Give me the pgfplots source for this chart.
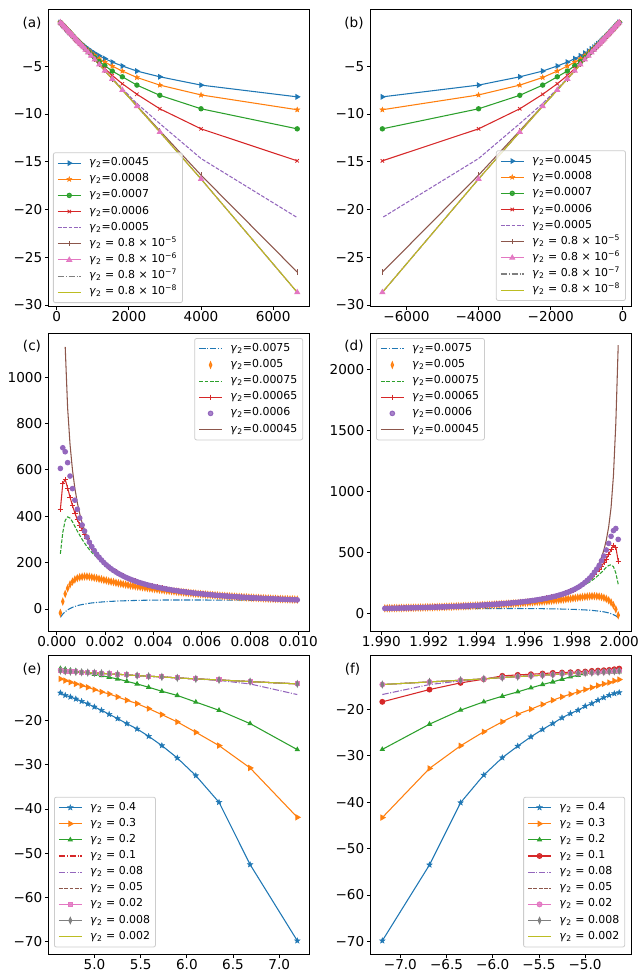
\documentclass[border=0pt]{standalone}
\usepackage{fontspec}
\setmainfont{DejaVu Sans}
\usepackage{pgfplots}
\usepackage{pgfplotstable}
\pgfplotsset{compat=1.18}

\definecolor{C0}{HTML}{1F77B4}
\definecolor{C1}{HTML}{FF7F0E}
\definecolor{C2}{HTML}{2CA02C}
\definecolor{C3}{HTML}{D62728}
\definecolor{C4}{HTML}{9467BD}
\definecolor{C5}{HTML}{8C564B}
\definecolor{C6}{HTML}{E377C2}
\definecolor{C7}{HTML}{7F7F7F}
\definecolor{C8}{HTML}{BCBD22}

\newcommand{\g}{\textit{γ}\textsubscript{2}}

\pgfdeclareplotmark{fstar}{%
 \pgfpathmoveto{\pgfpointpolar{90}{\pgfplotmarksize}}%
 \pgfpathlineto{\pgfpointpolar{126}{0.42\pgfplotmarksize}}%
 \pgfpathlineto{\pgfpointpolar{162}{\pgfplotmarksize}}%
 \pgfpathlineto{\pgfpointpolar{198}{0.42\pgfplotmarksize}}%
 \pgfpathlineto{\pgfpointpolar{234}{\pgfplotmarksize}}%
 \pgfpathlineto{\pgfpointpolar{270}{0.42\pgfplotmarksize}}%
 \pgfpathlineto{\pgfpointpolar{306}{\pgfplotmarksize}}%
 \pgfpathlineto{\pgfpointpolar{342}{0.42\pgfplotmarksize}}%
 \pgfpathlineto{\pgfpointpolar{18}{\pgfplotmarksize}}%
 \pgfpathlineto{\pgfpointpolar{54}{0.42\pgfplotmarksize}}%
 \pgfpathclose
 \pgfusepathqfillstroke}

\pgfplotsset{
  mybase/.style={
    anchor=south west, scale only axis, width=195.4pt,
    axis line style={line width=0.6pt},
    tick align=outside, tick pos=left,
    major tick length=2.7pt,
    every tick/.style={line width=0.6pt, black},
    tick label style={font=\fontsize{10.2}{12}\selectfont},
    xticklabel style={inner sep=0.9pt},
    yticklabel style={inner sep=1.8pt},
    scaled ticks=false,
    legend cell align=left,
    legend style={font=\fontsize{8.2}{9.5}\selectfont, draw=black!20, line width=0.6pt,
      rounded corners=1.5pt, fill=white, fill opacity=0.8, text opacity=1, draw opacity=1,
      inner xsep=3pt, inner ysep=2.6pt, row sep=1.7pt,
      nodes={inner sep=1pt, text height=6.1pt, text depth=2.3pt},
      /tikz/every odd column/.append style={column sep=5pt}},
    every axis plot/.append style={line width=0.8pt},
  },
  dsh/.style={dash pattern=on 2.8pt off 1.2pt},
  dshdot/.style={dash pattern=on 4.8pt off 1.2pt on 0.8pt off 1.2pt},
}

\pgfplotstableread{
x b o g r p br pk
100.5 -0.41 -0.41 -0.41 -0.41 -0.41 -0.41 -0.41
143.9 -0.59 -0.58 -0.58 -0.58 -0.58 -0.58 -0.58
183.5 -0.75 -0.74 -0.74 -0.74 -0.74 -0.74 -0.74
219.8 -0.90 -0.89 -0.89 -0.89 -0.89 -0.89 -0.89
253.2 -1.04 -1.03 -1.03 -1.03 -1.03 -1.03 -1.03
289.9 -1.19 -1.18 -1.18 -1.18 -1.18 -1.18 -1.18
327.9 -1.34 -1.33 -1.33 -1.33 -1.33 -1.33 -1.33
350.9 -1.44 -1.43 -1.43 -1.43 -1.43 -1.43 -1.43
392.2 -1.60 -1.59 -1.59 -1.59 -1.59 -1.59 -1.59
425.5 -1.73 -1.73 -1.73 -1.73 -1.73 -1.73 -1.73
465.1 -1.88 -1.89 -1.89 -1.89 -1.89 -1.89 -1.89
512.8 -2.06 -2.08 -2.09 -2.09 -2.09 -2.09 -2.09
540.5 -2.16 -2.19 -2.20 -2.20 -2.20 -2.20 -2.20
571.4 -2.27 -2.31 -2.32 -2.33 -2.33 -2.33 -2.33
606.1 -2.39 -2.44 -2.46 -2.47 -2.47 -2.47 -2.47
645.2 -2.52 -2.58 -2.61 -2.63 -2.63 -2.63 -2.63
689.7 -2.66 -2.74 -2.78 -2.81 -2.81 -2.81 -2.81
740.7 -2.82 -2.92 -2.98 -3.01 -3.02 -3.02 -3.02
800.0 -2.99 -3.12 -3.20 -3.25 -3.26 -3.26 -3.26
869.6 -3.18 -3.35 -3.47 -3.53 -3.55 -3.55 -3.55
952.4 -3.40 -3.60 -3.77 -3.86 -3.89 -3.89 -3.89
1052.6 -3.63 -3.88 -4.10 -4.25 -4.30 -4.30 -4.30
1176.5 -3.90 -4.20 -4.50 -4.70 -4.82 -4.82 -4.82
1333.3 -4.20 -4.56 -4.94 -5.24 -5.45 -5.47 -5.47
1538.5 -4.56 -4.98 -5.50 -5.96 -6.27 -6.32 -6.32
1818.2 -4.97 -5.50 -6.10 -6.83 -7.35 -7.46 -7.49
2222.2 -5.50 -6.17 -6.97 -7.93 -8.90 -9.12 -9.18
2857.1 -6.10 -6.97 -8.04 -9.45 -11.00 -11.75 -11.88
4000.0 -6.97 -8.00 -9.45 -11.55 -14.66 -16.40 -16.80
6666.7 -8.20 -9.55 -11.55 -14.90 -20.84 -26.55 -28.67
}\tabA

\pgfplotstableread{
t bl or gr rd pu brc brd
0.00015 -36 -17 238 429 606 nan 2200
0.00025 -22 32 330 541 695 nan 1560
0.00035 -12 65 382 558 678 1130 1130
0.00045 -4 89 397 522 631 867 867
0.00055 2 106 392 482 573 709 709
0.00065 7 118 376 446 519 600 600
0.00075 11 127 356 414 469 520 520
0.00085 14 133 336 386 430 459 459
0.00095 17 137 318 362 392 411 411
0.00105 19 139 300 341 362 371 371
0.00115 21 140 284 322 336 339 339
0.00125 23 140 269 303 310 312 312
0.00135 24.5 139 256 285 288 289 289
0.00145 26 137 244 267 269 269 269
0.00155 27 135 233 252 252 252 252
0.00165 28 133 223 236 236 236 236
0.00175 29 130 214 223 223 223 223
0.00185 30 128 206 211 211 211 211
0.00195 30.8 125 198 200 200 200 200
0.00205 31.5 123 190.2 190.2 190.2 190.2 190.2
0.00215 32.2 120 181.4 181.4 181.4 181.4 181.4
0.00225 32.8 118 173.3 173.3 173.3 173.3 173.3
0.00235 33.3 116 166.0 166.0 166.0 166.0 166.0
0.00245 33.8 113 159.2 159.2 159.2 159.2 159.2
0.00255 34.3 111 152.9 152.9 152.9 152.9 152.9
0.00265 34.7 109 147.2 147.2 147.2 147.2 147.2
0.00275 35.1 107 141.8 141.8 141.8 141.8 141.8
0.00285 35.5 105 136.8 136.8 136.8 136.8 136.8
0.00295 35.8 103 132.2 132.2 132.2 132.2 132.2
0.00305 36.1 101 127.9 127.9 127.9 127.9 127.9
0.00315 36.4 99.5 123.8 123.8 123.8 123.8 123.8
0.00325 36.7 98 120.0 120.0 120.0 120.0 120.0
0.00335 37.0 96.5 116.4 116.4 116.4 116.4 116.4
0.00345 37.2 95 113.0 113.0 113.0 113.0 113.0
0.00355 37.4 93.5 109.9 109.9 109.9 109.9 109.9
0.00365 37.6 92 106.8 106.8 106.8 106.8 106.8
0.00375 37.8 90.5 104.0 104.0 104.0 104.0 104.0
0.00385 38.0 89 101.3 101.3 101.3 101.3 101.3
0.00395 38.1 87.5 98.7 98.7 98.7 98.7 98.7
0.00405 38.2 86 96.3 96.3 96.3 96.3 96.3
0.00415 38.3 84.7 94.0 94.0 94.0 94.0 94.0
0.00425 38.4 83.4 91.8 91.8 91.8 91.8 91.8
0.00435 38.5 82.1 89.7 89.7 89.7 89.7 89.7
0.00445 38.6 80.8 87.6 87.6 87.6 87.6 87.6
0.00455 38.6 79.5 85.7 85.7 85.7 85.7 85.7
0.00465 38.7 78.3 83.9 83.9 83.9 83.9 83.9
0.00475 38.7 77.1 82.1 82.1 82.1 82.1 82.1
0.00485 38.7 75.9 80.4 80.4 80.4 80.4 80.4
0.00495 38.8 74.7 78.8 78.8 78.8 78.8 78.8
0.00505 38.8 73.5 77.2 77.2 77.2 77.2 77.2
0.00515 38.8 72.4 75.7 75.7 75.7 75.7 75.7
0.00525 38.8 71.3 74.3 74.3 74.3 74.3 74.3
0.00535 38.8 70.2 72.9 72.9 72.9 72.9 72.9
0.00545 38.8 69.1 71.6 71.6 71.6 71.6 71.6
0.00555 38.8 68.1 70.3 70.3 70.3 70.3 70.3
0.00565 38.7 67.1 69.0 69.0 69.0 69.0 69.0
0.00575 38.7 66.1 67.8 67.8 67.8 67.8 67.8
0.00585 38.7 65.1 66.7 66.7 66.7 66.7 66.7
0.00595 38.7 64.1 65.5 65.5 65.5 65.5 65.5
0.00605 38.6 63.2 64.5 64.5 64.5 64.5 64.5
0.00615 38.6 62.3 63.4 63.4 63.4 63.4 63.4
0.00625 38.5 61.4 62.4 62.4 62.4 62.4 62.4
0.00635 38.5 60.5 61.4 61.4 61.4 61.4 61.4
0.00645 38.4 59.7 60.5 60.5 60.5 60.5 60.5
0.00655 38.4 58.9 59.5 59.5 59.5 59.5 59.5
0.00665 38.3 58.1 58.6 58.6 58.6 58.6 58.6
0.00675 38.3 57.3 57.8 57.8 57.8 57.8 57.8
0.00685 38.2 56.5 56.9 56.9 56.9 56.9 56.9
0.00695 38.2 55.8 56.1 56.1 56.1 56.1 56.1
0.00705 38.1 55.1 55.3 55.3 55.3 55.3 55.3
0.00715 38.1 54.4 54.5 54.5 54.5 54.5 54.5
0.00725 38.0 53.7 53.8 53.8 53.8 53.8 53.8
0.00735 38.0 53.0 53.1 53.1 53.1 53.1 53.1
0.00745 37.9 52.3 52.3 52.3 52.3 52.3 52.3
0.00755 37.9 51.7 51.7 51.7 51.7 51.7 51.7
0.00765 37.8 51.1 51.0 51.0 51.0 51.0 51.0
0.00775 37.8 50.5 50.3 50.3 50.3 50.3 50.3
0.00785 37.7 49.9 49.7 49.7 49.7 49.7 49.7
0.00795 37.7 49.3 49.1 49.1 49.1 49.1 49.1
0.00805 37.6 48.7 48.4 48.4 48.4 48.4 48.4
0.00815 37.6 48.1 47.9 47.9 47.9 47.9 47.9
0.00825 37.5 47.6 47.3 47.3 47.3 47.3 47.3
0.00835 37.5 47.1 46.7 46.7 46.7 46.7 46.7
0.00845 37.4 46.6 46.2 46.2 46.2 46.2 46.2
0.00855 37.4 46.1 45.6 45.6 45.6 45.6 45.6
0.00865 37.3 45.6 45.1 45.1 45.1 45.1 45.1
0.00875 37.3 45.1 44.6 44.6 44.6 44.6 44.6
0.00885 37.2 44.6 44.1 44.1 44.1 44.1 44.1
0.00895 37.2 44.2 43.6 43.6 43.6 43.6 43.6
0.00905 37.1 43.8 43.1 43.1 43.1 43.1 43.1
0.00915 37.1 43.4 42.6 42.6 42.6 42.6 42.6
0.00925 37.0 43.0 42.2 42.2 42.2 42.2 42.2
0.00935 37.0 42.6 41.7 41.7 41.7 41.7 41.7
0.00945 36.9 42.2 41.3 41.3 41.3 41.3 41.3
0.00955 36.9 41.8 40.8 40.8 40.8 40.8 40.8
0.00965 36.8 41.4 40.4 40.4 40.4 40.4 40.4
0.00975 36.8 41.0 40.0 40.0 40.0 40.0 40.0
0.00985 36.7 40.6 39.6 39.6 39.6 39.6 39.6
0.00995 36.7 40.2 39.2 39.2 39.2 39.2 39.2
}\tabC

\pgfplotstableread{
x s4 s3 s2 grp s08
4.6305 -13.73 -10.56 -8.22 -8.67 -8.67
4.6832 -14.26 -10.94 -8.37 -8.82 -8.82
4.7387 -14.64 -11.31 -8.60 -8.90 -8.90
4.7976 -15.09 -11.69 -8.75 -8.97 -8.97
4.8601 -15.62 -12.07 -8.97 -9.05 -9.05
4.9268 -16.22 -12.45 -9.20 -9.12 -9.12
4.9983 -16.90 -12.98 -9.50 -9.20 -9.20
5.0752 -17.66 -13.50 -9.80 -9.27 -9.27
5.1586 -18.56 -13.96 -10.18 -9.43 -9.43
5.2496 -19.55 -14.64 -10.56 -9.50 -9.50
5.3497 -20.68 -15.39 -11.10 -9.65 -9.65
5.4609 -21.89 -16.15 -11.70 -9.80 -9.80
5.5860 -23.55 -17.28 -12.45 -9.95 -9.95
5.7291 -25.66 -18.64 -13.35 -10.10 -10.10
5.8962 -28.46 -20.30 -14.30 -10.33 -10.33
6.0968 -32.46 -22.64 -15.80 -10.56 -10.56
6.3481 -38.50 -25.66 -17.66 -10.79 -10.90
6.6846 -52.60 -30.72 -20.68 -11.16 -11.70
7.1955 -69.85 -41.90 -26.57 -11.69 -14.10
}\tabE

\pgfplotstableread{
x s4 s3 s2 s1 s08 grp
-7.1955 -69.86 -43.30 -28.60 -18.35 -16.77 -14.62
-6.6846 -53.50 -32.70 -23.16 -15.70 -14.62 -14.05
-6.3481 -40.09 -27.82 -20.14 -14.26 -13.83 -13.69
-6.0968 -34.13 -24.80 -18.35 -13.47 -13.40 -13.40
-5.8962 -30.39 -22.65 -17.13 -12.75 -13.11 -13.11
-5.7291 -27.89 -21.00 -16.20 -12.54 -12.90 -12.90
-5.5860 -25.88 -19.93 -15.34 -12.40 -12.75 -12.75
-5.4609 -24.30 -18.90 -14.62 -12.25 -12.60 -12.60
-5.3497 -23.01 -18.00 -14.05 -12.11 -12.47 -12.47
-5.2496 -21.79 -17.27 -13.47 -12.04 -12.32 -12.32
-5.1586 -20.86 -16.70 -12.97 -11.97 -12.25 -12.25
-5.0752 -20.14 -16.20 -12.61 -11.90 -12.18 -12.18
-4.9983 -19.28 -15.70 -12.30 -11.82 -12.11 -12.11
-4.9268 -18.71 -15.27 -12.10 -11.68 -12.04 -12.04
-4.8601 -17.99 -14.84 -12.02 -11.61 -11.97 -11.97
-4.7976 -17.42 -14.48 -11.97 -11.54 -11.90 -11.90
-4.7387 -16.92 -14.19 -11.93 -11.47 -11.82 -11.82
-4.6832 -16.56 -13.83 -11.90 -11.32 -11.75 -11.75
-4.6305 -16.34 -13.54 -11.88 -11.18 -11.68 -11.68
}\tabF

\begin{document}
\begin{tikzpicture}
\useasboundingbox (0,0) rectangle (480.75pt,728.25pt);

% ---------------- (a)
\begin{axis}[mybase, at={(36.4pt,498.75pt)}, height=222.75pt,
  xmin=-228, xmax=6995, ymin=-30.1, ymax=1.0,
  xtick={0,2000,4000,6000}, xticklabels={0,2000,4000,6000},
  ytick={-30,-25,-20,-15,-10,-5}, yticklabels={−30,−25,−20,−15,−10,−5},
  legend style={at={(0.017,0.01)}, anchor=south west}]
\addplot[C0, mark=triangle*, mark size=1.8pt, mark options={rotate=-90}] table[x=x,y=b]{\tabA};
\addlegendentry{\g=0.0045}
\addplot[C1, mark=fstar, mark size=2pt, mark options={line width=0.3pt}] table[x=x,y=o]{\tabA};
\addlegendentry{\g=0.0008}
\addplot[C2, mark=*, mark size=1.6pt] table[x=x,y=g]{\tabA};
\addlegendentry{\g=0.0007}
\addplot[C3, mark=x, mark size=1.8pt, mark options={line width=0.6pt}] table[x=x,y=r]{\tabA};
\addlegendentry{\g=0.0006}
\addplot[C4, dsh, no marks] table[x=x,y=p]{\tabA};
\addlegendentry{\g=0.0005}
\addplot[C5, mark=|, mark size=2pt, mark options={line width=0.6pt}] table[x=x,y=br]{\tabA};
\addlegendentry{\g{} = 0.8 × 10\textsuperscript{−5}}
\addplot[C6, mark=triangle*, mark size=2pt] table[x=x,y=pk]{\tabA};
\addlegendentry{\g{} = 0.8 × 10\textsuperscript{−6}}
\addplot[C7, dshdot, no marks] table[x=x,y=pk]{\tabA};
\addlegendentry{\g{} = 0.8 × 10\textsuperscript{−7}}
\addplot[C8, no marks] table[x=x,y=pk]{\tabA};
\addlegendentry{\g{} = 0.8 × 10\textsuperscript{−8}}
\end{axis}

% ---------------- (b)
\begin{axis}[mybase, at={(277.9pt,498.75pt)}, height=222.75pt,
  xmin=-6995, xmax=228, ymin=-30.1, ymax=1.0,
  xtick={-6000,-4000,-2000,0}, xticklabels={−6000,−4000,−2000,0},
  ytick={-30,-25,-20,-15,-10,-5}, yticklabels={−30,−25,−20,−15,−10,−5},
  legend style={at={(0.98,0.017)}, anchor=south east}]
\addplot[C0, mark=triangle*, mark size=1.8pt, mark options={rotate=-90}] table[x expr=-\thisrow{x},y=b]{\tabA};
\addlegendentry{\g=0.0045}
\addplot[C1, mark=fstar, mark size=2pt, mark options={line width=0.3pt}] table[x expr=-\thisrow{x},y=o]{\tabA};
\addlegendentry{\g=0.0008}
\addplot[C2, mark=*, mark size=1.6pt] table[x expr=-\thisrow{x},y=g]{\tabA};
\addlegendentry{\g=0.0007}
\addplot[C3, mark=x, mark size=1.8pt, mark options={line width=0.6pt}] table[x expr=-\thisrow{x},y=r]{\tabA};
\addlegendentry{\g=0.0006}
\addplot[C4, dsh, no marks] table[x expr=-\thisrow{x},y=p]{\tabA};
\addlegendentry{\g=0.0005}
\addplot[C5, mark=|, mark size=2pt, mark options={line width=0.6pt}] table[x expr=-\thisrow{x},y=br]{\tabA};
\addlegendentry{\g{} = 0.8 × 10\textsuperscript{−5}}
\addplot[C6, mark=triangle*, mark size=2pt] table[x expr=-\thisrow{x},y=pk]{\tabA};
\addlegendentry{\g{} = 0.8 × 10\textsuperscript{−6}}
\addplot[C7, dshdot, no marks] table[x expr=-\thisrow{x},y=pk]{\tabA};
\addlegendentry{\g{} = 0.8 × 10\textsuperscript{−7}}
\addplot[C8, no marks] table[x expr=-\thisrow{x},y=pk]{\tabA};
\addlegendentry{\g{} = 0.8 × 10\textsuperscript{−8}}
\end{axis}

% ---------------- (c)
\begin{axis}[mybase, at={(36.4pt,255pt)}, height=223.5pt,
  xmin=-0.00034, xmax=0.01044, ymin=-95, ymax=1190,
  xtick={0,0.002,0.004,0.006,0.008,0.01}, xticklabels={0.000,0.002,0.004,0.006,0.008,0.010},
  ytick={0,200,400,600,800,1000}, yticklabels={0,200,400,600,800,1000},
  legend style={at={(0.977,0.983)}, anchor=north east}]
\addplot[C0, dshdot, no marks] table[x=t,y=bl]{\tabC};
\addlegendentry{\g=0.0075}
\addplot[C1, only marks, mark=diamond*, mark size=2.2pt, mark options={xscale=0.55}] table[x=t,y=or]{\tabC};
\addlegendentry{\g=0.005}
\addplot[C2, dsh, no marks] table[x=t,y=gr]{\tabC};
\addlegendentry{\g=0.00075}
\addplot[C3, mark=+, mark size=2pt, mark options={line width=0.5pt}] table[x=t,y=rd]{\tabC};
\addlegendentry{\g=0.00065}
\addplot[C4, only marks, mark=*, mark size=1.7pt] table[x=t,y=pu]{\tabC};
\addlegendentry{\g=0.0006}
\addplot[C5, no marks] table[x=t,y=brc]{\tabC};
\addlegendentry{\g=0.00045}
\end{axis}

% ---------------- (d)
\begin{axis}[mybase, at={(277.9pt,255pt)}, height=223.5pt,
  xmin=-0.00045, xmax=0.01049, ymin=-146, ymax=2300,
  xtick={0,0.002,0.004,0.006,0.008,0.01}, xticklabels={1.990,1.992,1.994,1.996,1.998,2.000},
  ytick={0,500,1000,1500,2000}, yticklabels={0,500,1000,1500,2000},
  legend style={at={(0.021,0.983)}, anchor=north west}]
\addplot[C0, dshdot, no marks] table[x expr=0.0101-\thisrow{t},y=bl]{\tabC};
\addlegendentry{\g=0.0075}
\addplot[C1, only marks, mark=diamond*, mark size=2.2pt, mark options={xscale=0.55}] table[x expr=0.0101-\thisrow{t},y=or]{\tabC};
\addlegendentry{\g=0.005}
\addplot[C2, dsh, no marks] table[x expr=0.0101-\thisrow{t},y=gr]{\tabC};
\addlegendentry{\g=0.00075}
\addplot[C3, mark=+, mark size=2pt, mark options={line width=0.5pt}] table[x expr=0.0101-\thisrow{t},y=rd]{\tabC};
\addlegendentry{\g=0.00065}
\addplot[C4, only marks, mark=*, mark size=1.7pt] table[x expr=0.0101-\thisrow{t},y=pu]{\tabC};
\addlegendentry{\g=0.0006}
\addplot[C5, no marks] table[x expr=0.0101-\thisrow{t},y=brd]{\tabC};
\addlegendentry{\g=0.00045}
\end{axis}

% ---------------- (e)
\begin{axis}[mybase, at={(36.4pt,12.5pt)}, height=224.5pt,
  xmin=4.502, xmax=7.323, ymin=-72.93, ymax=-5.14,
  xtick={5,5.5,6,6.5,7}, xticklabels={5.0,5.5,6.0,6.5,7.0},
  ytick={-70,-60,-50,-40,-30,-20}, yticklabels={−70,−60,−50,−40,−30,−20},
  legend style={at={(0.021,0.023)}, anchor=south west}]
\addplot[C0, mark=fstar, mark size=2.2pt, mark options={line width=0.3pt}] table[x=x,y=s4]{\tabE};
\addlegendentry{\g{} = 0.4}
\addplot[C1, mark=triangle*, mark size=2pt, mark options={rotate=-90}] table[x=x,y=s3]{\tabE};
\addlegendentry{\g{} = 0.3}
\addplot[C2, mark=triangle*, mark size=1.6pt] table[x=x,y=s2]{\tabE};
\addlegendentry{\g{} = 0.2}
\addplot[C3, dshdot, no marks] table[x=x,y=grp]{\tabE};
\addlegendentry{\g{} = 0.1}
\addplot[C4, dshdot, no marks] table[x=x,y=s08]{\tabE};
\addlegendentry{\g{} = 0.08}
\addplot[C5, dsh, no marks] table[x=x,y=grp]{\tabE};
\addlegendentry{\g{} = 0.05}
\addplot[C6, mark=square*, mark size=1.5pt] table[x=x,y=grp]{\tabE};
\addlegendentry{\g{} = 0.02}
\addplot[C7, mark=diamond*, mark size=2.2pt, mark options={xscale=0.6}] table[x=x,y=grp]{\tabE};
\addlegendentry{\g{} = 0.008}
\addplot[C8, no marks] table[x=x,y=grp]{\tabE};
\addlegendentry{\g{} = 0.002}
\end{axis}

% ---------------- (f)
\begin{axis}[mybase, at={(277.9pt,12.5pt)}, height=224.5pt,
  xmin=-7.323, xmax=-4.502, ymin=-72.79, ymax=-8.25,
  xtick={-7,-6.5,-6,-5.5,-5}, xticklabels={−7.0,−6.5,−6.0,−5.5,−5.0},
  ytick={-70,-60,-50,-40,-30,-20}, yticklabels={−70,−60,−50,−40,−30,−20},
  legend style={at={(0.977,0.023)}, anchor=south east}]
\addplot[C0, mark=fstar, mark size=2.2pt, mark options={line width=0.3pt}] table[x=x,y=s4]{\tabF};
\addlegendentry{\g{} = 0.4}
\addplot[C1, mark=triangle*, mark size=2pt, mark options={rotate=-90}] table[x=x,y=s3]{\tabF};
\addlegendentry{\g{} = 0.3}
\addplot[C2, mark=triangle*, mark size=1.6pt] table[x=x,y=s2]{\tabF};
\addlegendentry{\g{} = 0.2}
\addplot[C3, mark=*, mark size=1.8pt] table[x=x,y=s1]{\tabF};
\addlegendentry{\g{} = 0.1}
\addplot[C4, dshdot, no marks] table[x=x,y=s08]{\tabF};
\addlegendentry{\g{} = 0.08}
\addplot[C5, dsh, no marks] table[x=x,y=grp]{\tabF};
\addlegendentry{\g{} = 0.05}
\addplot[C6, mark=*, mark size=1.8pt] table[x=x,y=grp]{\tabF};
\addlegendentry{\g{} = 0.02}
\addplot[C7, mark=diamond*, mark size=2.2pt, mark options={xscale=0.6}] table[x=x,y=grp]{\tabF};
\addlegendentry{\g{} = 0.008}
\addplot[C8, no marks] table[x=x,y=grp]{\tabF};
\addlegendentry{\g{} = 0.002}
\end{axis}

\node[font=\fontsize{10.2}{12}\selectfont] at (24pt,711pt) {(a)};
\node[font=\fontsize{10.2}{12}\selectfont] at (265.5pt,711pt) {(b)};
\node[font=\fontsize{10.2}{12}\selectfont] at (24pt,468.75pt) {(c)};
\node[font=\fontsize{10.2}{12}\selectfont] at (265.5pt,468.75pt) {(d)};
\node[font=\fontsize{10.2}{12}\selectfont] at (24pt,226.5pt) {(e)};
\node[font=\fontsize{10.2}{12}\selectfont] at (264.4pt,226.5pt) {(f)};
\end{tikzpicture}
\end{document}
